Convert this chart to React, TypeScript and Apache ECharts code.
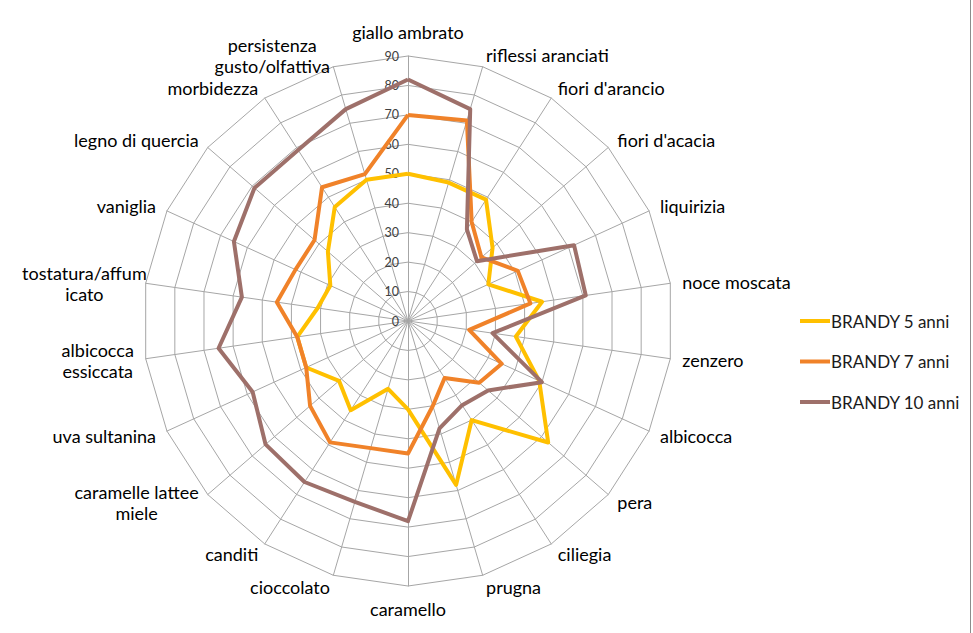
import React, { useEffect, useRef } from "react";
import * as echarts from "echarts";

// Categories clockwise from the top
const categories = [
  "giallo ambrato",
  "riflessi aranciati",
  "fiori d'arancio",
  "fiori d'acacia",
  "liquirizia",
  "noce moscata",
  "zenzero",
  "albicocca",
  "pera",
  "ciliegia",
  "prugna",
  "caramello",
  "cioccolato",
  "canditi",
  "caramelle lattee\nmiele",
  "uva sultanina",
  "albicocca\nessiccata",
  "tostatura/affum\nicato",
  "vaniglia",
  "legno di quercia",
  "morbidezza",
  "persistenza\ngusto/olfattiva",
];

const brandy5 = [50, 49, 49, 38, 30, 46, 37, 49, 63, 40, 58, 30, 24, 36, 31, 38, 38, 31, 29, 36, 46, 50];
const brandy7 = [70, 71, 40, 33, 41, 42, 21, 35, 32, 23, 30, 45, 45, 49, 44, 38, 38, 45, 42, 42, 54, 52];
const brandy10 = [82, 75, 37, 31, 62, 61, 29, 50, 36, 34, 38, 68, 64, 65, 64, 58, 65, 57, 65, 69, 69, 75];

const seriesNames = ["BRANDY 5 anni", "BRANDY 7 anni", "BRANDY 10 anni"];
const seriesColors = ["#FFC000", "#F08229", "#9E706A"];

const axisMin = 0;
const axisMax = 90;
const axisSplits = 9;

const FONT = "Lato";

export default function App() {
  const ref = useRef<HTMLDivElement>(null);

  useEffect(() => {
    if (!ref.current) return;
    const chart = echarts.init(ref.current, null, { renderer: "svg" });

    // ECharts radar runs counter-clockwise: keep first at top, reverse the rest
    const order = [0, ...categories.map((_, i) => i).slice(1).reverse()];
    const reorder = (arr: number[]) => order.map((i) => arr[i]);

    const nameGapFor = (i: number) => {
      if (i === 0) return 14;
      if (categories[i].startsWith("tostatura")) return -1;
      return 12;
    };

    const indicator = order.map((i, k) => ({
      name: categories[i]
        .split("\n")
        .map((line) => `{m|${line}}`)
        .join("\n"),
      min: axisMin,
      max: axisMax,
      nameGap: nameGapFor(i),
      axisLabel:
        k === 0
          ? {
              show: true,
              color: "#404040",
              fontSize: 12.5,
              fontFamily: FONT,
              margin: 9,
              showMaxLabel: true,
              showMinLabel: true,
            }
          : { show: false },
    }));

    const allSeries = [brandy5, brandy7, brandy10];

    chart.setOption({
      animation: false,
      backgroundColor: "#ffffff",
      graphic: [
        {
          type: "line",
          shape: { x1: 970.5, y1: 0, x2: 970.5, y2: 633 },
          style: { stroke: "#8c8c8c", lineWidth: 1 },
          silent: true,
        },
      ],
      legend: {
        orient: "vertical",
        left: 800,
        top: 311,
        padding: 0,
        itemWidth: 30,
        itemHeight: 4,
        itemGap: 20.5,
        icon: "rect",
        textStyle: {
          color: "#1a1a1a",
          fontSize: 17,
          fontFamily: FONT,
          lineHeight: 20,
          padding: [0, 0, 0, -4],
        },
        data: seriesNames,
      },
      radar: {
        center: [408, 321],
        radius: 265,
        startAngle: 90,
        shape: "polygon",
        splitNumber: axisSplits,
        nameGap: 12,
        axisName: {
          color: "#000000",
          fontSize: 18,
          fontFamily: FONT,
          lineHeight: 21,
          rich: {
            m: {
              align: "center",
              color: "#000000",
              fontSize: 18,
              fontFamily: FONT,
              lineHeight: 21,
            },
          },
        },
        splitArea: { show: false },
        splitLine: { lineStyle: { color: "#A6A6A6", width: 1 } },
        axisLine: { lineStyle: { color: "#A6A6A6", width: 1 } },
        axisTick: { show: false },
        indicator,
      },
      series: [
        {
          type: "radar",
          symbol: "none",
          data: allSeries.map((vals, s) => ({
            name: seriesNames[s],
            value: reorder(vals),
            lineStyle: { color: seriesColors[s], width: 4 },
            itemStyle: { color: seriesColors[s] },
          })),
        },
      ],
    });

    return () => chart.dispose();
  }, []);

  return (
    <div
      ref={ref}
      style={{ position: "fixed", left: 0, top: 0, width: 973, height: 633, background: "#fff" }}
    />
  );
}
